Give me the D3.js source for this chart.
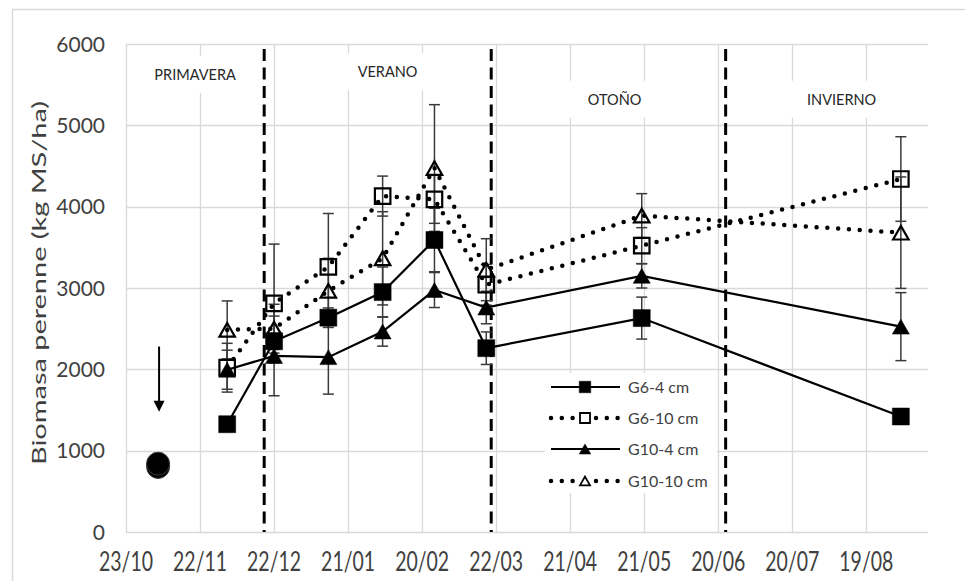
<!DOCTYPE html>
<html>
<head>
<meta charset="utf-8">
<script src="https://cdn.jsdelivr.net/npm/d3@7"></script>
<style>
  html, body { margin: 0; padding: 0; background: #ffffff; }
  svg { display: block; }
  text { font-family: Lato, "Open Sans", "Liberation Sans", sans-serif; }
</style>
</head>
<body>
<svg id="chart" width="965" height="581"></svg>
<script>
// ---------------- data ----------------
const sampleDates = ["2016-12-03","2016-12-22","2017-01-13","2017-02-04","2017-02-25","2017-03-18","2017-05-20","2017-09-02"];

const g6_4      = [1325, 2345, 2635, 2950, 3590, 2260, 2630, 1420];
const g6_4Err   = [50, 100, 120, 308, 390, 200, 258, 60];
const g6_10     = [2020, 2810, 3260, 4130, 4090, 3040, 3520, 4340];
const g6_10Err  = [300, 730, 656, 246, 295, 250, 222, 520];
const g10_4     = [1995, 2165, 2150, 2465, 2975, 2760, 3150, 2525];
const g10_4Err  = [240, 490, 455, 180, 215, 200, 150, 418];
const g10_10    = [2485, 2500, 2965, 3365, 4475, 3225, 3890, 3680];
const g10_10Err = [356, 300, 400, 573, 779, 381, 270, 685];

const seriesNames = ["G6-4 cm", "G6-10 cm", "G10-4 cm", "G10-10 cm"];

// initial biomass (before treatments)
const initialDate = "2016-11-05";
const initialValues = [800, 840];
const arrowValues = [2280, 1480];

// seasons
const seasonNames = ["PRIMAVERA", "VERANO", "OTOÑO", "INVIERNO"];
const seasonLabelDates = ["2016-11-20", "2017-02-06", "2017-05-09", "2017-08-09"];
const seasonLabelValues = [5620, 5655, 5315, 5315];
const seasonBoundaries = ["2016-12-18", "2017-03-20", "2017-06-23"];

// axes
const xTickDates = ["2016-10-23","2016-11-22","2016-12-22","2017-01-21","2017-02-20","2017-03-22",
                    "2017-04-21","2017-05-21","2017-06-20","2017-07-20","2017-08-19"];
const xDomain = ["2016-10-23", "2017-09-13"];
const yTicks = [0, 1000, 2000, 3000, 4000, 5000, 6000];
const yTitle = "Biomasa perenne (kg MS/ha)";

// ---------------- drawing ----------------
const parse = d3.utcParse("%Y-%m-%d");
const fmt = d3.utcFormat("%d/%m");
const svg = d3.select("#chart");

const x = d3.scaleUtc().domain(xDomain.map(parse)).range([126, 928]);
const y = d3.scaleLinear().domain([0, 6000]).range([532, 44]);

const gridColor = "#d9d9d9";
const textColor = "#404040";

// outer chart border
svg.append("path")
  .attr("d", "M12.5,581 L12.5,9.5 L965,9.5")
  .attr("fill", "none").attr("stroke", gridColor).attr("stroke-width", 1.5);

// horizontal gridlines
svg.append("g").selectAll("line").data(yTicks).join("line")
  .attr("x1", x.range()[0]).attr("x2", x.range()[1])
  .attr("y1", d => Math.round(y(d)) + 0.5).attr("y2", d => Math.round(y(d)) + 0.5)
  .attr("stroke", gridColor).attr("stroke-width", 1.3);

// vertical gridlines
svg.append("g").selectAll("line").data(xTickDates.map(parse)).join("line")
  .attr("x1", d => Math.round(x(d)) + 0.5).attr("x2", d => Math.round(x(d)) + 0.5)
  .attr("y1", y(6000)).attr("y2", y(0))
  .attr("stroke", gridColor).attr("stroke-width", 1.3);

// y tick labels
svg.append("g").selectAll("text").data(yTicks).join("text")
  .attr("x", 105).attr("y", d => y(d)).attr("dy", "0.36em")
  .attr("text-anchor", "end").attr("font-size", 21).attr("fill", textColor)
  .text(d => d);

// x tick labels (tall, condensed look)
svg.append("g").selectAll("text").data(xTickDates.map(parse)).join("text")
  .attr("transform", d => `translate(${x(d)},571) scale(0.95,1.32)`)
  .attr("text-anchor", "middle").attr("font-size", 20.5).attr("fill", textColor)
  .text(d => fmt(d));

// y axis title
svg.append("text")
  .attr("transform", "translate(46,283) rotate(-90)")
  .attr("text-anchor", "middle").attr("font-size", 20).attr("fill", textColor)
  .attr("textLength", 364).attr("lengthAdjust", "spacingAndGlyphs")
  .text(yTitle);

// season label boxes + text
const seasons = seasonNames.map((n, i) => ({ name: n, date: parse(seasonLabelDates[i]), value: seasonLabelValues[i] }));
const sg = svg.append("g");
sg.selectAll("rect").data(seasons).join("rect")
  .attr("x", d => x(d.date) - 52).attr("y", d => y(d.value) - 19)
  .attr("width", 104).attr("height", 37).attr("fill", "#ffffff");
sg.selectAll("text").data(seasons).join("text")
  .attr("x", d => x(d.date)).attr("y", d => y(d.value)).attr("dy", "0.36em")
  .attr("text-anchor", "middle").attr("font-size", 14.5).attr("fill", "#262626")
  .text(d => d.name);

// season boundaries (dashed)
svg.append("g").selectAll("line").data(seasonBoundaries.map(parse)).join("line")
  .attr("x1", d => x(d)).attr("x2", d => x(d))
  .attr("y1", y(5940)).attr("y2", y(0))
  .attr("stroke", "#000").attr("stroke-width", 3)
  .attr("stroke-dasharray", "12 6.5");

// arrow + initial biomass
const x0 = x(parse(initialDate));
svg.append("line")
  .attr("x1", x0 + 1).attr("x2", x0 + 1)
  .attr("y1", y(arrowValues[0])).attr("y2", y(arrowValues[1]) - 9)
  .attr("stroke", "#000").attr("stroke-width", 2);
svg.append("path")
  .attr("d", d3.line()([[x0 + 1 - 5.5, y(arrowValues[1]) - 11], [x0 + 1 + 5.5, y(arrowValues[1]) - 11], [x0 + 1, y(arrowValues[1])]]) + "Z")
  .attr("fill", "#000");
svg.append("g").selectAll("circle").data(initialValues).join("circle")
  .attr("cx", x0).attr("cy", d => y(d)).attr("r", 11.5)
  .attr("fill", "#000").attr("stroke", "#3a3a3a").attr("stroke-width", 1);

// series
const dates = sampleDates.map(parse);
const series = [
  { name: seriesNames[0], values: g6_4,   err: g6_4Err,   dotted: false, marker: "square",   filled: true },
  { name: seriesNames[1], values: g6_10,  err: g6_10Err,  dotted: true,  marker: "square",   filled: false },
  { name: seriesNames[2], values: g10_4,  err: g10_4Err,  dotted: false, marker: "triangle", filled: true },
  { name: seriesNames[3], values: g10_10, err: g10_10Err, dotted: true,  marker: "triangle", filled: false }
];

function markerPath(type, s) {
  if (type === "square") {
    const h = s / 2;
    return `M${-h},${-h}H${h}V${h}H${-h}Z`;
  }
  const h = s * 0.88;
  return `M0,${-h / 2}L${s / 2},${h / 2}L${-s / 2},${h / 2}Z`;
}

function styleLine(sel, dotted) {
  sel.attr("fill", "none").attr("stroke", "#000");
  if (dotted) {
    sel.attr("stroke-width", 4.5).attr("stroke-linecap", "round").attr("stroke-dasharray", "0 10.8");
  } else {
    sel.attr("stroke-width", 2.2);
  }
}

// error bars
const eg = svg.append("g");
series.forEach(s => {
  const pts = dates.map((d, i) => ({ d, v: s.values[i], e: s.err[i] }));
  const g = eg.append("g").attr("stroke", "#3a3a3a").attr("stroke-width", 1.5);
  g.selectAll("line.v").data(pts).join("line").attr("class", "v")
    .attr("x1", p => x(p.d)).attr("x2", p => x(p.d))
    .attr("y1", p => y(p.v + p.e)).attr("y2", p => y(p.v - p.e));
  g.selectAll("line.t").data(pts).join("line").attr("class", "t")
    .attr("x1", p => x(p.d) - 5.5).attr("x2", p => x(p.d) + 5.5)
    .attr("y1", p => y(p.v + p.e)).attr("y2", p => y(p.v + p.e));
  g.selectAll("line.b").data(pts).join("line").attr("class", "b")
    .attr("x1", p => x(p.d) - 5.5).attr("x2", p => x(p.d) + 5.5)
    .attr("y1", p => y(p.v - p.e)).attr("y2", p => y(p.v - p.e));
});

// lines and markers
const lineGen = d3.line().x((v, i) => x(dates[i])).y(v => y(v));
series.forEach(s => {
  styleLine(svg.append("path").attr("d", lineGen(s.values)), s.dotted);
  svg.append("g").selectAll("path").data(s.values).join("path")
    .attr("transform", (v, i) => `translate(${x(dates[i])},${y(v)})`)
    .attr("d", markerPath(s.marker, s.filled ? 17 : 15.5))
    .attr("fill", s.filled ? "#000" : "none")
    .attr("stroke", "#000").attr("stroke-width", s.filled ? 0.5 : 2.2);
});

// legend
const lg = svg.append("g");
lg.append("rect").attr("x", 545).attr("y", 373).attr("width", 172).attr("height", 120).attr("fill", "#ffffff");
const rowY = [387, 418, 449, 481];
series.forEach((s, i) => {
  const ly = rowY[i];
  if (s.dotted) {
    styleLine(lg.append("path").attr("d", d3.line()([[551, ly], [574, ly]])), true);
    styleLine(lg.append("path").attr("d", d3.line()([[596, ly], [618, ly]])), true);
  } else {
    styleLine(lg.append("path").attr("d", d3.line()([[551, ly], [620, ly]])), false);
  }
  lg.append("path").attr("transform", `translate(585,${ly})`)
    .attr("d", markerPath(s.marker, s.filled ? 11.5 : 10))
    .attr("fill", s.filled ? "#000" : "#fff")
    .attr("stroke", "#000").attr("stroke-width", s.filled ? 0.5 : 1.8);
  lg.append("text").attr("x", 628).attr("y", ly).attr("dy", "0.36em")
    .attr("font-size", 16).attr("fill", textColor).text(s.name);
});
</script>
</body>
</html>
